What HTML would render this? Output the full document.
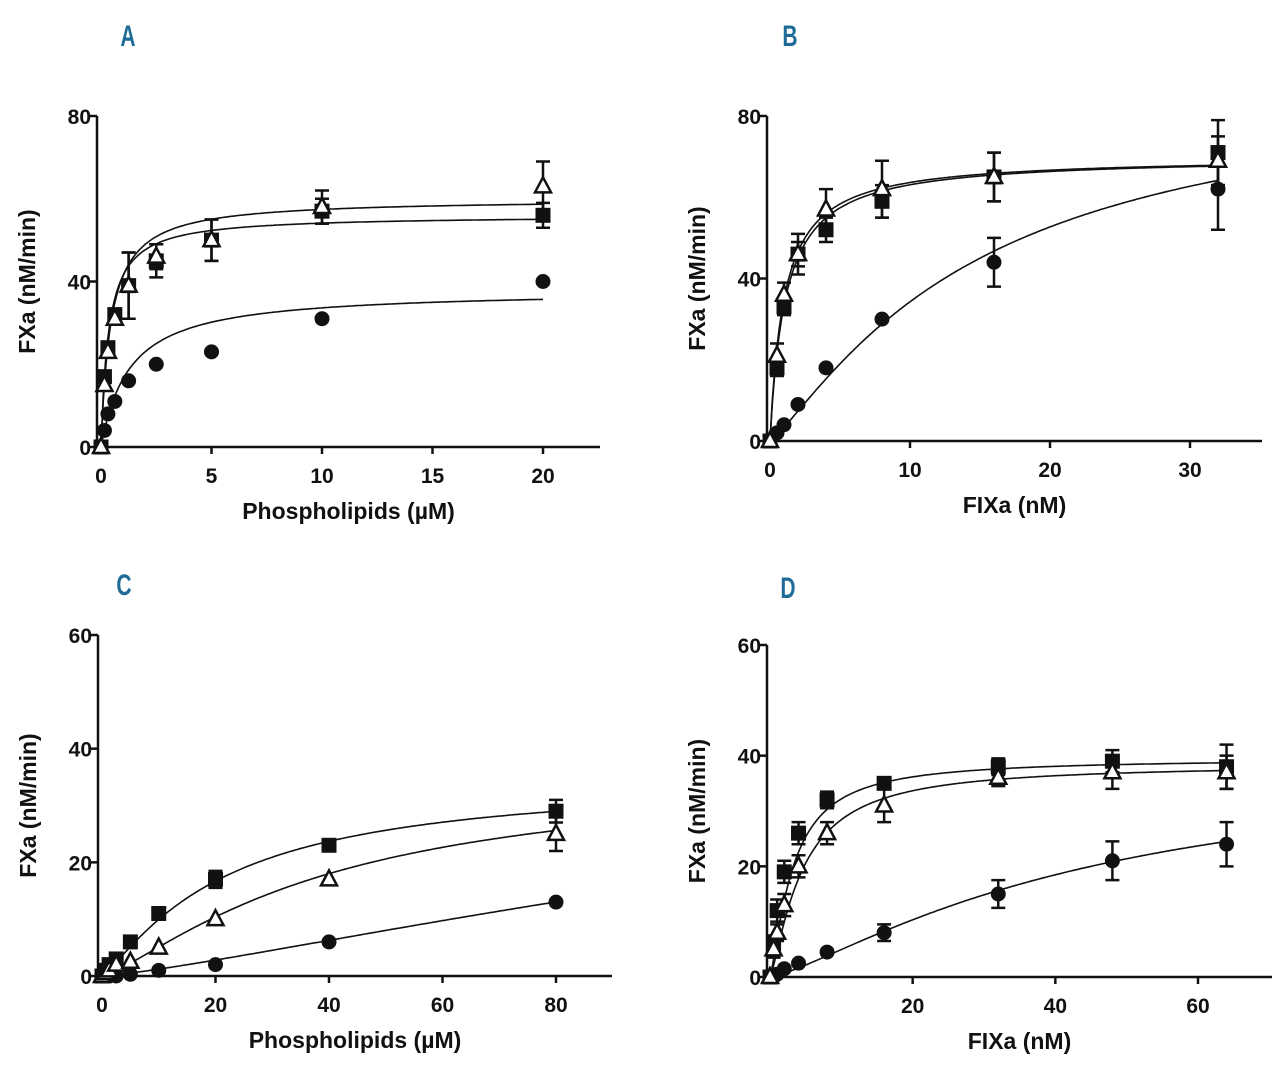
<!DOCTYPE html>
<html><head><meta charset="utf-8"><style>
body{margin:0;background:#fff;}
svg{display:block;font-family:"Liberation Sans",sans-serif;}
.t{font-weight:bold;font-size:21px;fill:#111;}
.l{font-weight:bold;font-size:23px;fill:#111;}
.p{font-weight:bold;font-size:30px;fill:#1e6b98;}
</style></head><body>
<svg id="c" width="1280" height="1069" viewBox="0 0 1280 1069"></svg>
<script>
// Panel A
const aX=[0,0.156,0.3125,0.625,1.25,2.5,5,10,20];
const aCirc=[0,4,8,11,16,20,23,31,40];
const aSq=[0,17,24,32,39,45,50,57,56];
const aTri=[0,15,23,31,39,46,50,58,63];
const aErrSq=[0,0,0,0,8,4,5,3,3];
const aErrTri=[0,0,0,0,8,3,5,4,6];
const aFitCirc=[38,1.3,1],aFitSq=[56,0.35,1],aFitTri=[60,0.45,1];
// Panel B
const bX=[0,0.5,1,2,4,8,16,32];
const bSq=[0,18,33,46,52,59,65,71];
const bTri=[0,21,36,46,57,62,65,69];
const bCirc=[0,2,4,9,18,30,44,62];
const bErrSq=[0,2,2,3,3,4,6,8];
const bErrTri=[0,3,3,5,5,7,6,6];
const bErrCirc=[0,0,0,0,0,0,6,10];
const bFitCirc=[90,15,1.2],bFitSq=[70,1.1,1],bFitTri=[70,1.0,1];
// Panel C
const cX=[0,0.625,1.25,2.5,5,10,20,40,80];
const cSq=[0,1,2,3,6,11,17,23,29];
const cTri=[0,0.5,1,2,2.5,5,10,17,25];
const cCirc=[0,0,0,0,0.3,1,2,6,13];
const cErrSq=[0,0,0,0,0,0,1.5,1,2];
const cErrTri=[0,0,0,0,0,0,0,0,3];
const cFitSq=[35,21.6,1.2],cFitTri=[36,40,1.3],cFitCirc=[60,223,1.25];
// Panel D
const dX=[0,0.5,1,2,4,8,16,32,48,64];
const dSq=[0,6,12,19,26,32,35,38,39,38];
const dTri=[0,5,8,13,20,26,31,36,37,37];
const dCirc=[0,0,0.5,1.5,2.5,4.5,8,15,21,24];
const dErrSq=[0,1.5,2,2,2,1.5,1,1.5,2,4];
const dErrTri=[0,1.5,1.5,2,2,2,3,1.5,3,3];
const dErrCirc=[0,0,0,0,0,0,1.5,2.5,3.5,4];
const dFitSq=[39.5,3.2,1.3],dFitTri=[38.5,4.5,1.3],dFitCirc=[40,45,1.3];

const svg=document.getElementById('c');
const NS='http://www.w3.org/2000/svg';
function el(tag,attrs,parent){const e=document.createElementNS(NS,tag);for(const k in attrs)e.setAttribute(k,attrs[k]);(parent||svg).appendChild(e);return e;}
function txt(s,x,y,cls,anchor,parent,rot){const e=el('text',{x:x,y:y,class:cls,'text-anchor':anchor||'middle'},parent);if(rot)e.setAttribute('transform',rot);e.textContent=s;return e;}

function panel(cfg){
 const g=el('g',{});
 
 
 const sx=v=>cfg.x0+(v-0)/(cfg.xmaxv)*(cfg.x1-cfg.x0);
 const sy=v=>cfg.y0-(v/cfg.ymaxv)*(cfg.y0-cfg.y1);
 const lt=txt(cfg.id,0,0,'p','middle',g,'translate('+cfg.lx+' '+cfg.ly+') scale(0.7 1)');
 
 const ya=el('line',{x1:cfg.ax,y1:cfg.y1,x2:cfg.ax,y2:cfg.y0,stroke:'#111','stroke-width':2.5},g);
 
 const xa=el('line',{x1:cfg.ax,y1:cfg.y0,x2:cfg.xend,y2:cfg.y0,stroke:'#111','stroke-width':2.5},g);
 
 cfg.yt.forEach(v=>{el('line',{x1:cfg.ax-7,y1:sy(v),x2:cfg.ax,y2:sy(v),stroke:'#111','stroke-width':2.5},g);
  const t=txt(String(v),cfg.ax-6,sy(v)+8,'t','end',g);});
 cfg.xt.forEach(v=>{el('line',{x1:sx(v),y1:cfg.y0,x2:sx(v),y2:cfg.y0+7,stroke:'#111','stroke-width':2.5},g);
  const t=txt(String(v),sx(v),cfg.y0+36,'t','middle',g);});
 const xt=txt(cfg.xl,(cfg.ax+cfg.xend)/2,cfg.y0+72,'l','middle',g);
 const cy=(cfg.y0+cfg.y1)/2;
 const yt=txt('FXa (nM/min)',cfg.ax-62,cy,'l','middle',g,'rotate(-90 '+(cfg.ax-62)+' '+cy+')');
 
 cfg.series.forEach(s=>{
  const sg=el('g',{},g);
  
  let d='';const xm=cfg.X[cfg.X.length-1];
  for(let i=0;i<=200;i++){const x=xm*i/200;const [V,K,h]=s.fit;const y=V*Math.pow(x,h)/(Math.pow(K,h)+Math.pow(x,h));d+=(i?'L':'M')+sx(x).toFixed(1)+' '+sy(y).toFixed(1);}
  const c=el('path',{d:d,fill:'none',stroke:'#111','stroke-width':1.6},sg);
  
  cfg.X.forEach((x,i)=>{
   const px=sx(x),py=sy(s.y[i]);
   const e=s.err?s.err[i]:0;
   if(e>0){const eb=el('path',{d:`M${px} ${sy(s.y[i]+e)}V${sy(s.y[i]-e)}M${px-7} ${sy(s.y[i]+e)}h14M${px-7} ${sy(s.y[i]-e)}h14`,stroke:'#111','stroke-width':2.5,fill:'none'},sg);
    }
   let m;
   if(s.m==='sq')m=el('rect',{x:px-7.5,y:py-7.5,width:15,height:15,fill:'#111'},sg);
   else if(s.m==='ci')m=el('circle',{cx:px,cy:py,r:7.5,fill:'#111'},sg);
   else m=el('path',{d:`M${px} ${py-9}L${px+8} ${py+6}L${px-8} ${py+6}Z`,fill:'#fff',stroke:'#111','stroke-width':2.5},sg);
   
  });
 });
}
panel({id:'A',lx:128,ly:46,ax:97,x0:101,x1:543,xmaxv:20,xend:600,y0:447,y1:116,ymaxv:80,yt:[0,40,80],xt:[0,5,10,15,20],xl:'Phospholipids (µM)',X:aX,
 series:[{name:'circle',y:aCirc,m:'ci',fit:aFitCirc},{name:'square',y:aSq,m:'sq',err:aErrSq,fit:aFitSq},{name:'triangle',y:aTri,m:'tr',err:aErrTri,fit:aFitTri}]});
panel({id:'B',lx:790,ly:46,ax:767,x0:770,x1:1190,xmaxv:30,xend:1262,y0:441,y1:116,ymaxv:80,yt:[0,40,80],xt:[0,10,20,30],xl:'FIXa (nM)',X:bX,
 series:[{name:'circle',y:bCirc,m:'ci',err:bErrCirc,fit:bFitCirc},{name:'square',y:bSq,m:'sq',err:bErrSq,fit:bFitSq},{name:'triangle',y:bTri,m:'tr',err:bErrTri,fit:bFitTri}]});
panel({id:'C',lx:124,ly:595,ax:98,x0:102,x1:556,xmaxv:80,xend:612,y0:976,y1:635,ymaxv:60,yt:[0,20,40,60],xt:[0,20,40,60,80],xl:'Phospholipids (µM)',X:cX,
 series:[{name:'circle',y:cCirc,m:'ci',fit:cFitCirc},{name:'square',y:cSq,m:'sq',err:cErrSq,fit:cFitSq},{name:'triangle',y:cTri,m:'tr',err:cErrTri,fit:cFitTri}]});
panel({id:'D',lx:788,ly:598,ax:767,x0:770,x1:1198,xmaxv:60,xend:1272,y0:977,y1:645,ymaxv:60,yt:[0,20,40,60],xt:[20,40,60],xl:'FIXa (nM)',X:dX,
 series:[{name:'circle',y:dCirc,m:'ci',err:dErrCirc,fit:dFitCirc},{name:'square',y:dSq,m:'sq',err:dErrSq,fit:dFitSq},{name:'triangle',y:dTri,m:'tr',err:dErrTri,fit:dFitTri}]});
</script>
</body></html>
